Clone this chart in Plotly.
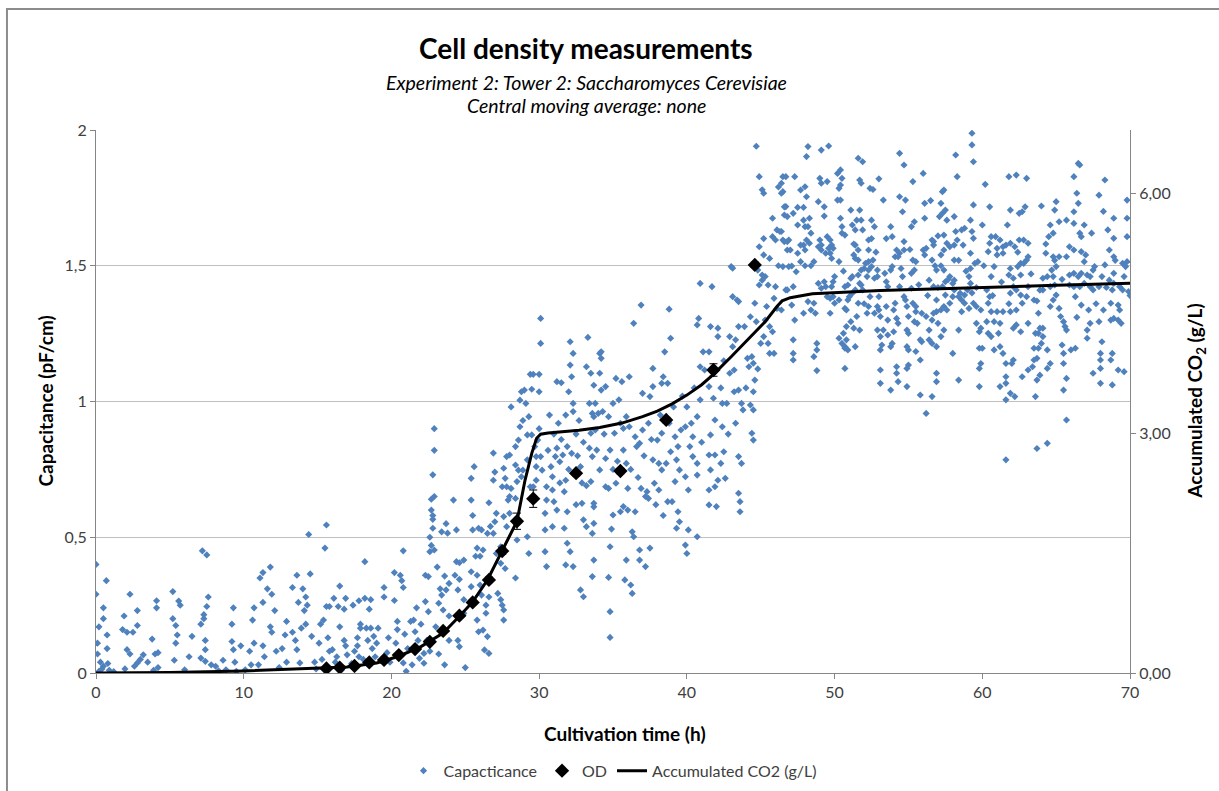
import plotly.graph_objects as go

# ---------------- data ----------------
# Capacitance (pF/cm) in four time segments
cap_a_time = [
    0.0, 0.0, 0.7, 0.5, 0.5, 0.2, 0.1, 0.1, 0.75, 0.75,
    0.3, 0.5, 0.8, 0.2, 0.4, 0.9, 1.96, 1.9, 2.3, 1.8,
    2.1, 2.5, 2.8, 2.8, 2.1, 2.3, 2.8, 3.0, 3.2, 2.6,
    3.5, 3.8, 4.1, 4.1, 4.0, 4.2, 4.2, 5.2, 5.2, 5.4,
    5.5, 5.4, 5.3, 5.6, 5.7, 6.5, 7.1, 7.3, 7.3, 7.2,
    7.5, 7.6, 7.5, 7.4, 7.4, 7.1, 7.4, 7.8, 8.1, 8.6,
    9.3, 9.2, 9.2, 9.3, 9.8, 9.4, 8.8, 9.5, 10.7, 10.6,
    10.4, 10.5, 10.7, 11.1, 11.3, 11.8, 11.3, 11.6, 11.9, 11.3,
    11.4, 11.8, 11.9, 12.1, 12.2, 12.4, 12.6, 12.9, 12.8, 13.3,
    13.6, 13.7, 13.3, 13.5, 13.6, 13.9, 14.0, 14.4, 14.5, 14.2,
    14.1, 14.3, 14.2, 14.6, 13.8, 15.1, 15.2, 15.4, 15.6, 15.5,
    15.6, 15.8, 15.7, 15.8, 16.0, 16.1, 16.5, 16.4, 16.8, 16.5,
    16.9, 16.8, 16.9, 17.0, 17.4, 17.8, 17.9, 17.9, 17.7, 17.7,
    17.8, 18.2, 18.2, 18.5, 18.6, 18.3, 18.6, 18.4, 18.8, 19.1,
    19.0, 19.5, 19.5, 19.8, 1.2, 3.9, 6.0, 6.3, 8.3, 10.1,
    11.0, 12.9, 14.8, 15.3, 16.2, 16.6, 17.3, 18.1, 18.9, 19.3,
    19.7, 14.9, 16.3, 17.5, 18.7, 19.9,
]
cap_a_value = [
    0.40, 0.29, 0.34, 0.24, 0.20, 0.17, 0.11, 0.07, 0.14, 0.09,
    0.04, 0.025, 0.035, 0.006, 0.015, 0.01, 0.015, 0.21, 0.29, 0.16,
    0.15, 0.15, 0.175, 0.23, 0.086, 0.07, 0.037, 0.05, 0.067, 0.025,
    0.04, 0.125, 0.266, 0.24, 0.07, 0.075, 0.02, 0.30, 0.20, 0.175,
    0.14, 0.11, 0.047, 0.265, 0.25, 0.135, 0.18, 0.215, 0.20, 0.45,
    0.435, 0.28, 0.245, 0.12, 0.086, 0.055, 0.043, 0.03, 0.025, 0.047,
    0.24, 0.18, 0.116, 0.086, 0.10, 0.04, 0.012, 0.006, 0.24, 0.195,
    0.08, 0.03, 0.11, 0.35, 0.37, 0.39, 0.26, 0.31, 0.29, 0.10,
    0.06, 0.17, 0.15, 0.23, 0.08, 0.02, 0.09, 0.19, 0.14, 0.315,
    0.36, 0.26, 0.15, 0.12, 0.086, 0.165, 0.31, 0.51, 0.365, 0.28,
    0.23, 0.25, 0.18, 0.135, 0.037, 0.11, 0.18, 0.195, 0.545, 0.46,
    0.245, 0.245, 0.13, 0.08, 0.086, 0.275, 0.32, 0.245, 0.235, 0.17,
    0.275, 0.12, 0.10, 0.067, 0.25, 0.266, 0.18, 0.165, 0.13, 0.10,
    0.06, 0.41, 0.275, 0.235, 0.27, 0.165, 0.165, 0.12, 0.135, 0.165,
    0.11, 0.315, 0.28, 0.13, 0.005, 0.01, 0.012, 0.06, 0.008, 0.012,
    0.03, 0.04, 0.04, 0.05, 0.04, 0.01, 0.035, 0.05, 0.06, 0.045,
    0.075, 0.015, 0.06, 0.08, 0.09, 0.04,
]

cap_b_time = [
    20.2, 20.8, 20.6, 20.7, 20.8, 20.2, 20.4, 20.4, 20.3, 20.9,
    20.8, 21.0, 21.5, 21.3, 21.6, 21.8, 21.1, 22.2, 21.9, 22.2,
    22.9, 22.9, 22.8, 22.9, 22.7, 22.7, 22.8, 22.8, 22.8, 22.6,
    22.7, 22.6, 22.9, 22.3, 22.5, 22.3, 22.5, 23.1, 23.3, 23.4,
    23.2, 23.5, 23.7, 23.4, 23.8, 23.6, 23.7, 23.9, 23.9, 24.2,
    24.4, 24.4, 24.6, 24.9, 24.3, 24.6, 24.5, 24.9, 24.9, 23.9,
    24.5, 24.6, 23.6, 25.0, 25.4, 25.6, 25.4, 25.5, 25.5, 25.9,
    26.1, 25.8, 25.7, 26.0, 26.2, 25.4, 25.4, 25.8, 26.0, 26.1,
    26.4, 26.6, 26.4, 25.8, 25.9, 26.2, 26.5, 26.3, 26.6, 26.6,
    26.5, 26.7, 26.9, 26.9, 27.0, 26.9, 27.1, 27.0, 27.1, 27.4,
    27.4, 27.6, 27.8, 28.0, 27.7, 27.5, 27.8, 28.0, 27.9, 27.8,
    27.6, 27.2, 27.4, 27.6, 27.5, 27.6, 27.7, 28.1, 28.4, 28.4,
    28.6, 28.5, 28.1, 28.4, 28.0, 28.5, 28.4, 28.7, 28.8, 29.0,
    28.9, 28.7, 28.6, 29.1, 29.5, 29.4, 29.6, 30.0, 30.0, 30.1,
    30.1, 29.3, 29.2, 29.5, 29.7, 29.8, 29.8, 29.8, 29.6, 29.4,
    29.2, 28.9, 28.8, 29.2, 29.3, 30.0, 29.9, 30.1, 30.2, 30.5,
    30.5, 30.4, 30.4, 30.4, 30.5, 30.9, 30.9, 31.0, 30.9, 31.2,
    31.1, 31.4, 31.6, 31.2, 31.5, 32.0, 32.1, 32.1, 32.3, 32.2,
    32.3, 32.3, 31.9, 32.2, 32.3, 31.8, 31.7, 31.9, 31.7, 31.9,
    31.8, 32.3, 32.1, 32.9, 33.2, 32.9, 33.0, 33.2, 33.3, 33.2,
    33.5, 33.7, 33.8, 33.6, 33.5, 33.4, 33.6, 33.5, 33.7, 33.6,
    33.7, 33.6, 32.8, 33.0, 34.1, 30.7, 31.0, 31.3, 31.5, 31.8,
    32.5, 32.7, 32.6, 33.0, 30.8, 31.4, 32.0, 32.5, 31.2, 30.6,
    32.8, 21.4, 22.0, 22.4, 21.7, 23.0, 22.6, 23.2,
]
cap_b_value = [
    0.37, 0.45, 0.36, 0.34, 0.315, 0.267, 0.19, 0.16, 0.11, 0.143,
    0.037, 0.006, 0.195, 0.19, 0.152, 0.12, 0.09, 0.072, 0.054, 0.036,
    0.90, 0.82, 0.73, 0.65, 0.64, 0.60, 0.58, 0.566, 0.533, 0.50,
    0.47, 0.447, 0.453, 0.36, 0.355, 0.263, 0.226, 0.39, 0.31, 0.287,
    0.257, 0.232, 0.55, 0.52, 0.515, 0.357, 0.306, 0.33, 0.21, 0.637,
    0.527, 0.41, 0.406, 0.416, 0.36, 0.345, 0.306, 0.27, 0.22, 0.12,
    0.12, 0.097, 0.03, 0.02, 0.637, 0.76, 0.717, 0.58, 0.527, 0.533,
    0.527, 0.46, 0.43, 0.43, 0.453, 0.373, 0.318, 0.36, 0.324, 0.287,
    0.25, 0.28, 0.22, 0.195, 0.152, 0.158, 0.134, 0.085, 0.072, 0.627,
    0.514, 0.54, 0.514, 0.81, 0.74, 0.71, 0.588, 0.557, 0.44, 0.465,
    0.404, 0.754, 0.797, 0.803, 0.717, 0.686, 0.686, 0.65, 0.637, 0.539,
    0.576, 0.293, 0.27, 0.232, 0.25, 0.195, 0.385, 0.98, 0.834, 0.766,
    0.747, 0.705, 0.68, 0.643, 0.588, 0.49, 0.35, 1.005, 1.036, 1.042,
    0.93, 0.907, 0.858, 0.993, 1.045, 1.10, 1.10, 1.10, 1.036, 1.214,
    1.306, 0.944, 0.877, 0.877, 0.834, 0.797, 0.76, 0.71, 0.686, 0.686,
    0.785, 0.747, 0.723, 0.502, 0.44, 0.90, 0.858, 0.797, 0.747, 0.686,
    0.637, 0.588, 0.527, 0.447, 0.392, 0.723, 0.674, 0.631, 0.539, 0.828,
    0.797, 0.778, 0.803, 1.073, 1.069, 1.036, 1.134, 1.22, 1.177, 1.091,
    0.993, 0.963, 0.834, 0.809, 0.735, 0.71, 0.668, 0.594, 0.533, 0.478,
    0.398, 0.392, 0.447, 0.70, 0.69, 0.625, 0.564, 0.539, 1.236, 1.128,
    1.104, 1.06, 0.993, 0.956, 0.883, 0.828, 0.797, 0.705, 0.612, 0.514,
    0.416, 0.355, 0.306, 0.281, 1.177, 0.95, 0.88, 0.92, 0.86, 0.95,
    0.88, 0.93, 0.80, 0.85, 0.76, 0.70, 0.75, 0.62, 0.60, 0.82,
    0.76, 0.03, 0.18, 0.12, 0.24, 0.17, 0.08, 0.07,
]

cap_c_time = [
    34.8, 34.8, 34.7, 34.8, 34.9, 35.0, 33.7, 33.7, 35.8, 35.9,
    36.2, 36.3, 36.3, 36.4, 35.7, 36.0, 36.5, 35.5, 36.8, 36.8,
    37.2, 37.5, 36.9, 37.3, 37.2, 37.4, 37.8, 34.5, 34.7, 35.2,
    33.9, 34.5, 34.8, 34.1, 33.8, 33.4, 33.7, 34.0, 34.3, 34.7,
    35.0, 35.4, 34.2, 34.5, 34.1, 34.2, 34.2, 35.2, 35.6, 36.1,
    35.9, 35.1, 35.7, 36.1, 36.5, 35.7, 35.9, 36.6, 36.8, 37.0,
    37.4, 37.0, 37.5, 37.7, 37.7, 36.9, 36.4, 38.3, 38.4, 38.7,
    38.5, 38.9, 38.8, 38.0, 38.3, 37.7, 38.1, 38.3, 38.1, 38.6,
    38.9, 39.2, 39.4, 39.6, 39.9, 39.3, 39.5, 39.9, 40.1, 39.2,
    38.7, 39.0, 39.4, 39.5, 39.3, 40.1, 39.9, 40.0, 40.7, 40.2,
    40.4, 40.3, 40.7, 40.9, 40.4, 40.7, 40.7, 40.9, 41.2, 41.1,
    41.5, 40.8, 40.9, 41.7, 41.6, 42.1, 42.1, 41.5, 41.8, 42.4,
    41.9, 42.4, 41.6, 41.5, 41.9, 42.3, 42.5, 41.6, 41.5, 41.9,
    42.1, 41.5, 42.0, 42.6, 42.7, 42.9, 43.2, 43.1, 42.9, 43.3,
    43.5, 43.1, 43.5, 43.5, 43.2, 43.7, 43.8, 43.5, 43.7, 43.5,
    43.6, 43.6, 43.9, 44.3, 44.1, 44.4, 44.2, 44.5, 44.6, 44.5,
    44.3, 44.5, 44.4, 44.5, 44.6, 44.7, 45.0, 45.2, 45.3, 45.5,
    45.6, 45.8, 45.6, 45.9, 45.9, 46.1, 46.0, 44.9, 45.1, 45.3,
    45.5, 44.8, 45.1, 44.9, 45.2, 45.2, 45.6, 45.1, 45.2, 44.9,
    45.8, 46.1, 46.3, 45.8, 46.0, 43.0, 43.1, 43.4, 40.7, 44.7,
    36.2, 36.7, 37.1, 37.6, 38.2, 38.8, 39.1, 39.7, 40.5, 37.9,
    38.4, 36.0, 35.3, 35.5, 34.4, 35.0, 46.5, 46.8, 46.8, 46.5,
    46.7, 46.2, 46.4, 46.4, 46.7, 46.7, 46.8, 42.3, 42.8, 43.3,
    44.0, 44.8, 45.4, 46.2, 42.5, 41.0, 40.0,
]
cap_c_value = [
    0.131, 0.226, 0.352, 0.465, 0.53, 0.582, 0.625, 0.551, 0.343, 0.416,
    0.324, 0.293, 0.52, 0.502, 0.613, 0.60, 0.594, 0.594, 0.453, 0.416,
    0.392, 0.46, 0.68, 0.668, 0.65, 0.643, 0.699, 0.686, 0.68, 0.699,
    0.821, 0.79, 0.821, 0.748, 0.895, 0.993, 0.944, 0.956, 0.963, 0.944,
    0.993, 1.006, 1.042, 1.055, 1.104, 1.183, 1.159, 1.085, 1.073, 1.091,
    0.944, 0.883, 0.901, 0.907, 0.87, 0.821, 0.772, 0.834, 0.846, 0.895,
    0.92, 1.03, 1.018, 1.055, 1.122, 1.355, 1.288, 1.067, 1.091, 1.067,
    1.183, 1.233, 1.34, 0.858, 0.883, 0.785, 0.772, 0.748, 0.674, 0.772,
    0.815, 0.87, 0.834, 0.895, 0.907, 0.785, 0.748, 0.723, 0.674, 0.705,
    0.631, 0.631, 0.594, 0.557, 0.533, 0.527, 0.471, 0.44, 0.502, 0.834,
    0.87, 0.92, 0.944, 1.006, 0.797, 0.772, 0.729, 1.128, 1.116, 1.183,
    1.183, 1.306, 1.435, 1.423, 1.276, 1.27, 1.239, 1.055, 1.012, 0.993,
    0.932, 0.907, 0.877, 0.803, 0.803, 0.772, 0.815, 0.748, 0.674, 0.686,
    0.71, 0.619, 0.613, 0.717, 0.993, 1.104, 1.116, 1.202, 1.239, 1.227,
    1.276, 1.386, 1.368, 1.042, 1.036, 0.993, 0.969, 0.797, 0.772, 0.662,
    0.631, 0.594, 1.276, 1.312, 1.159, 1.165, 1.128, 1.141, 1.079, 1.036,
    0.987, 0.969, 0.883, 0.858, 1.362, 1.294, 1.214, 1.239, 1.30, 1.214,
    1.276, 1.257, 1.177, 1.177, 1.38, 1.343, 1.423, 1.429, 1.447, 1.46,
    1.429, 1.484, 1.466, 1.57, 1.60, 1.54, 1.527, 1.78, 1.767, 1.828,
    1.675, 1.632, 1.626, 1.607, 1.595, 1.497, 1.491, 1.374, 1.282, 1.94,
    0.75, 0.72, 0.80, 0.86, 0.95, 0.92, 0.98, 1.02, 1.05, 0.62,
    0.58, 0.68, 0.78, 0.92, 0.88, 0.75, 1.595, 1.589, 1.558, 1.497,
    1.411, 1.79, 1.804, 1.767, 1.828, 1.718, 1.681, 1.05, 0.88, 0.92,
    1.05, 1.12, 1.35, 1.50, 1.15, 0.85, 0.98,
]

cap_d_time = [
    46.5, 47.3, 46.5, 46.6, 46.6, 47.2, 47.5, 47.9, 47.7, 48.1,
    48.0, 48.1, 48.2, 46.4, 46.6, 46.9, 47.0, 46.9, 47.1, 47.4,
    46.8, 47.2, 47.7, 47.7, 47.5, 47.9, 48.0, 48.2, 48.1, 47.9,
    48.3, 48.0, 47.5, 48.0, 48.4, 48.6, 48.4, 48.3, 46.4, 47.1,
    47.3, 47.2, 47.2, 47.2, 47.9, 48.6, 48.4, 48.7, 48.8, 48.8,
    48.6, 48.8, 48.2, 49.0, 49.1, 49.5, 49.1, 49.6, 49.3, 48.9,
    49.3, 49.0, 49.5, 49.7, 49.1, 48.9, 49.1, 49.4, 49.7, 49.8,
    49.6, 49.8, 49.9, 50.3, 50.0, 49.9, 49.8, 49.5, 49.7, 49.9,
    50.0, 50.3, 49.7, 49.4, 49.3, 48.9, 49.1, 50.4, 50.5, 50.3,
    50.2, 50.4, 50.4, 50.5, 50.5, 50.7, 50.4, 50.2, 50.3, 50.5,
    50.7, 50.9, 50.6, 50.8, 50.8, 50.7, 50.7, 50.7, 50.9, 51.1,
    51.2, 50.9, 51.1, 51.7, 51.2, 51.4, 51.5, 51.8, 51.7, 51.6,
    51.9, 51.4, 51.6, 51.4, 51.6, 51.3, 51.9, 51.8, 52.3, 52.5,
    52.3, 52.5, 52.7, 52.4, 52.6, 52.1, 52.3, 52.6, 52.5, 52.0,
    51.8, 52.2, 51.7, 51.6, 52.3, 52.9, 52.7, 52.9, 51.2, 51.4,
    51.9, 51.8, 51.0, 51.5, 51.3, 51.7, 51.6, 52.2, 52.3, 52.4,
    52.7, 52.9, 53.0, 53.0, 53.1, 52.9, 53.1, 53.2, 53.3, 51.1,
    50.8, 50.7, 51.4, 53.1, 53.1, 53.1, 53.8, 53.3, 53.8, 53.9,
    53.5, 53.6, 54.0, 54.1, 54.2, 54.3, 54.0, 53.9, 53.6, 53.8,
    54.2, 54.2, 54.3, 53.6, 53.5, 53.4, 53.8, 53.9, 54.1, 54.3,
    54.4, 54.2, 54.7, 54.6, 54.4, 54.7, 54.8, 54.9, 55.0, 54.9,
    55.0, 54.9, 55.0, 55.0, 54.9, 54.9, 54.4, 54.7, 54.4, 54.8,
    54.6, 54.7, 55.3, 55.2, 55.4, 55.3, 55.5, 55.4, 55.2, 55.2,
    55.3, 55.5, 55.4, 55.5, 55.6, 55.9, 55.8, 55.5, 55.8, 55.9,
    55.8, 56.0, 56.6, 56.2, 56.1, 56.1, 56.6, 56.7, 56.2, 56.0,
    56.1, 56.6, 56.8, 57.2, 56.9, 56.7, 57.0, 56.4, 57.2, 57.4,
    57.1, 57.3, 57.5, 57.2, 57.3, 57.4, 57.6, 56.9, 56.9, 56.7,
    56.2, 56.6, 56.4, 57.0, 57.4, 57.2, 56.6, 56.9, 56.4, 56.9,
    56.9, 57.2, 57.4, 57.6, 57.5, 57.3, 57.5, 57.4, 56.7, 57.4,
    57.6, 57.8, 58.1, 58.3, 58.2, 58.0, 58.1, 57.8, 58.1, 57.8,
    58.0, 58.4, 58.5, 58.6, 58.8, 58.6, 58.4, 58.4, 58.0, 58.2,
    58.3, 58.1, 58.1, 59.3, 59.3, 59.4, 59.4, 59.2, 58.8, 58.6,
    58.7, 59.3, 59.4, 59.2, 59.5, 59.7, 59.2, 59.1, 59.2, 59.0,
    59.3, 58.8, 59.1, 59.4, 59.6, 59.9, 60.0, 60.5, 60.6, 60.5,
    60.4, 60.9, 61.0, 61.0, 60.8, 60.6, 60.3, 60.5, 60.4, 60.6,
    61.0, 60.8, 60.3, 59.9, 59.8, 59.6, 59.8, 60.0, 60.8, 59.9,
    59.8, 59.8, 60.4, 60.6, 61.1, 61.2, 61.2, 61.2, 61.6, 61.6,
    61.4, 61.6, 61.6, 61.8, 62.3, 63.0, 61.9, 62.5, 62.7, 62.9,
    61.7, 61.2, 61.4, 61.6, 61.4, 61.9, 62.2, 62.5, 62.8, 63.1,
    62.6, 62.8, 63.0, 63.1, 62.4, 61.9, 61.8, 62.1, 62.6, 62.1,
    61.9, 62.3, 62.6, 63.1, 61.9, 61.4, 62.3, 62.7, 63.0, 63.5,
    62.3, 62.1, 62.6, 63.1, 63.6, 63.8, 63.9, 64.1, 63.8, 63.7,
    63.5, 63.8, 63.7, 63.5, 63.4, 63.1, 64.4, 64.0, 64.1, 62.1,
    62.0, 62.2, 61.9, 61.6, 62.7, 63.7, 63.6, 63.9, 64.4, 64.6,
    63.7, 64.4, 65.7, 65.0, 64.9, 65.2, 64.6, 64.8, 64.5, 64.3,
    64.8, 65.2, 64.7, 65.0, 64.8, 64.4, 64.1, 64.6, 64.9, 64.1,
    65.0, 64.8, 64.6, 65.2, 65.3, 65.5, 65.6, 65.7, 65.4, 65.5,
    65.5, 65.7, 65.5, 66.0, 66.3, 66.2, 66.4, 66.5, 66.6, 66.2,
    66.5, 66.2, 65.7, 66.2, 66.6, 66.7, 66.9, 65.7, 66.7, 66.9,
    65.9, 66.2, 66.5, 66.7, 67.1, 67.3, 67.5, 67.6, 65.9, 66.2,
    66.3, 66.6, 66.9, 67.3, 67.5, 67.9, 66.7, 67.2, 67.3, 67.1,
    67.1, 67.9, 68.1, 68.0, 68.0, 67.5, 68.0, 68.0, 68.7, 68.8,
    68.8, 69.2, 69.6, 68.3, 67.9, 68.5, 68.9, 69.8, 69.8, 68.9,
    69.8, 68.6, 68.9, 68.3, 68.1, 68.6, 68.9, 69.5, 69.8, 69.7,
    68.9, 69.3, 69.5, 69.9, 68.8, 68.2, 68.7, 69.2, 69.3, 68.9,
    68.7, 69.2, 69.4, 50.6, 51.3, 52.0, 52.8, 53.5, 54.5, 55.1,
    55.7, 56.3, 57.0, 57.7, 58.4, 58.9, 59.6, 60.1, 60.7, 61.3,
    61.8, 62.4, 63.3, 63.9, 64.3, 64.9, 65.4, 65.9, 66.4, 67.0,
    67.7, 68.4, 69.0, 69.6, 70.0, 67.4, 68.2, 64.0, 60.2, 56.5,
    53.0,
]
cap_d_value = [
    1.828, 1.828, 1.773, 1.717, 1.687, 1.693, 1.715, 1.715, 1.779, 1.754,
    1.791, 1.902, 1.939, 1.626, 1.589, 1.595, 1.558, 1.497, 1.499, 1.478,
    1.411, 1.423, 1.515, 1.576, 1.65, 1.668, 1.644, 1.644, 1.595, 1.576,
    1.583, 1.558, 1.546, 1.50, 1.50, 1.515, 1.62, 1.675, 1.337, 1.355,
    1.30, 1.227, 1.177, 1.153, 1.325, 1.362, 1.337, 1.325, 1.214, 1.19,
    1.165, 1.114, 1.368, 1.822, 1.804, 1.81, 1.926, 1.941, 1.717, 1.736,
    1.683, 1.595, 1.607, 1.595, 1.576, 1.57, 1.558, 1.546, 1.546, 1.527,
    1.564, 1.576, 1.564, 1.515, 1.46, 1.441, 1.423, 1.386, 1.38, 1.386,
    1.362, 1.374, 1.325, 1.423, 1.441, 1.435, 1.417, 1.797, 1.822, 1.785,
    1.742, 1.742, 1.675, 1.644, 1.62, 1.613, 1.853, 1.84, 1.233, 1.214,
    1.202, 1.19, 1.251, 1.276, 1.337, 1.343, 1.122, 1.423, 1.429, 1.454,
    1.46, 1.374, 1.705, 1.705, 1.65, 1.632, 1.668, 1.804, 1.816, 1.896,
    1.883, 1.576, 1.558, 1.527, 1.521, 1.54, 1.632, 1.668, 1.595, 1.60,
    1.558, 1.668, 1.644, 1.785, 1.781, 1.509, 1.515, 1.521, 1.497, 1.49,
    1.484, 1.46, 1.435, 1.466, 1.484, 1.484, 1.454, 1.46, 1.399, 1.411,
    1.411, 1.429, 1.386, 1.313, 1.27, 1.263, 1.362, 1.325, 1.35, 1.386,
    1.325, 1.35, 1.386, 1.337, 1.313, 1.263, 1.239, 1.208, 1.263, 1.294,
    1.227, 1.196, 1.202, 1.19, 1.116, 1.067, 1.042, 1.742, 1.644, 1.607,
    1.35, 1.30, 1.337, 1.362, 1.306, 1.288, 1.257, 1.214, 1.245, 1.202,
    1.128, 1.104, 1.073, 1.423, 1.441, 1.472, 1.484, 1.497, 1.533, 1.533,
    1.546, 1.558, 1.558, 1.46, 1.423, 1.386, 1.374, 1.35, 1.313, 1.263,
    1.251, 1.202, 1.19, 1.134, 1.122, 1.055, 1.914, 1.871, 1.754, 1.742,
    1.699, 1.589, 1.81, 1.644, 1.662, 1.521, 1.515, 1.484, 1.472, 1.417,
    1.362, 1.35, 1.294, 1.331, 1.288, 1.325, 1.227, 1.184, 1.153, 1.22,
    1.024, 1.84, 1.018, 0.956, 1.73, 1.675, 1.595, 1.576, 1.564, 1.558,
    1.54, 1.521, 1.50, 1.50, 1.484, 1.423, 1.42, 1.447, 1.54, 1.558,
    1.681, 1.693, 1.705, 1.73, 1.773, 1.779, 1.668, 1.374, 1.331, 1.325,
    1.313, 1.30, 1.263, 1.288, 1.263, 1.239, 1.214, 1.202, 1.227, 1.104,
    1.073, 1.337, 1.35, 1.337, 1.392, 1.423, 1.441, 1.484, 1.589, 1.613,
    1.583, 1.57, 1.576, 1.595, 1.626, 1.435, 1.447, 1.46, 1.411, 1.362,
    1.386, 1.386, 1.399, 1.374, 1.362, 1.331, 1.263, 1.079, 1.177, 1.908,
    1.828, 1.681, 1.521, 1.988, 1.945, 1.883, 1.724, 1.668, 1.638, 1.632,
    1.576, 1.626, 1.601, 1.546, 1.509, 1.515, 1.49, 1.46, 1.435, 1.411,
    1.40, 1.392, 1.343, 1.362, 1.35, 1.337, 1.65, 1.717, 1.607, 1.583,
    1.552, 1.607, 1.564, 1.54, 1.497, 1.46, 1.411, 1.386, 1.362, 1.331,
    1.331, 1.294, 1.294, 1.27, 1.257, 1.288, 1.196, 1.196, 1.19, 1.14,
    1.122, 1.055, 1.251, 1.239, 1.251, 1.288, 1.202, 1.055, 1.006, 0.785,
    1.177, 1.14, 1.091, 1.828, 1.834, 1.822, 1.705, 1.693, 1.699, 1.717,
    1.65, 1.595, 1.57, 1.576, 1.546, 1.583, 1.57, 1.595, 1.595, 1.583,
    1.509, 1.509, 1.521, 1.533, 1.497, 1.49, 1.466, 1.454, 1.466, 1.423,
    1.399, 1.411, 1.392, 1.423, 1.331, 1.331, 1.337, 1.362, 1.386, 1.374,
    1.282, 1.27, 1.257, 1.288, 1.251, 1.251, 1.27, 1.27, 1.325, 1.37,
    1.196, 1.196, 1.159, 1.153, 1.128, 1.116, 1.19, 1.214, 1.239, 1.153,
    1.14, 1.018, 1.03, 1.067, 1.091, 1.079, 1.018, 1.097, 1.122, 1.14,
    0.827, 0.846, 0.932, 1.736, 1.705, 1.662, 1.65, 1.62, 1.607, 1.546,
    1.533, 1.533, 1.484, 1.497, 1.46, 1.46, 1.454, 1.423, 1.429, 1.411,
    1.392, 1.374, 1.35, 1.343, 1.313, 1.294, 1.276, 1.263, 1.208, 1.177,
    1.14, 1.085, 1.042, 1.19, 1.196, 1.828, 1.767, 1.877, 1.871, 1.699,
    1.73, 1.656, 1.668, 1.558, 1.62, 1.607, 1.65, 1.533, 1.552, 1.515,
    1.466, 1.472, 1.46, 1.472, 1.466, 1.46, 1.484, 1.497, 1.429, 1.423,
    1.386, 1.423, 1.435, 1.423, 1.411, 1.423, 1.355, 1.337, 1.288, 1.263,
    1.233, 1.294, 1.22, 1.177, 1.153, 1.104, 1.122, 1.067, 1.153, 1.177,
    1.061, 1.116, 1.11, 1.816, 1.76, 1.632, 1.675, 1.742, 1.675, 1.601,
    1.607, 1.558, 1.533, 1.503, 1.46, 1.447, 1.472, 1.509, 1.515, 1.497,
    1.435, 1.423, 1.411, 1.405, 1.411, 1.337, 1.362, 1.355, 1.337, 1.306,
    1.30, 1.30, 1.288, 1.48, 1.58, 1.36, 1.55, 1.60, 1.49, 1.56,
    1.43, 1.39, 1.61, 1.45, 1.52, 1.48, 1.42, 1.50, 1.39, 1.44,
    1.36, 1.55, 1.47, 1.41, 1.58, 1.52, 1.45, 1.57, 1.31, 1.54,
    1.36, 1.42, 1.52, 1.46, 1.39, 1.62, 1.70, 1.72, 1.80, 1.74,
    1.82,
]

# OD measurements (left axis) with error bars
od_time = [15.6, 16.5, 17.5, 18.5, 19.5, 20.5, 21.6, 22.6, 23.5, 24.6,
           25.5, 26.6, 27.5, 28.5, 29.6, 32.5, 35.5, 38.6, 41.8, 44.6]
od_value = [0.017, 0.020, 0.026, 0.039, 0.048, 0.066, 0.088, 0.115, 0.155, 0.211,
            0.260, 0.343, 0.449, 0.559, 0.642, 0.736, 0.744, 0.932, 1.116, 1.503]
od_error = [0.004, 0.004, 0.004, 0.005, 0.005, 0.005, 0.006, 0.006, 0.007, 0.008,
            0.008, 0.010, 0.012, 0.030, 0.032, 0.010, 0.010, 0.010, 0.023, 0.010]

# Accumulated CO2 (g/L), right axis
co2_time = [0, 5, 10, 15, 17, 19, 20.5, 22, 23.5, 24.6, 25.5, 26.5, 27.5, 28.0,
            28.5, 29.05, 29.5, 29.83, 30.1, 30.6, 31.6, 32.7, 34.1, 35.6, 37.0,
            38.0, 39.0, 40.0, 41.0, 41.8, 43.0, 44.3, 45.3, 46.1, 46.45, 47.0,
            48.5, 53.1, 59.8, 65.0, 70.0]
co2_value = [0, 0.006, 0.025, 0.06, 0.075, 0.125, 0.21, 0.33, 0.50, 0.71, 0.89,
             1.165, 1.53, 1.70, 1.90, 2.42, 2.75, 2.94, 2.99, 3.005, 3.02, 3.04,
             3.075, 3.13, 3.21, 3.28, 3.37, 3.48, 3.61, 3.74, 3.96, 4.21, 4.40,
             4.59, 4.66, 4.70, 4.75, 4.79, 4.83, 4.855, 4.88]

x_ticks = [0, 10, 20, 30, 40, 50, 60, 70]
y_left_ticks = [0, 0.5, 1, 1.5, 2]
y_left_labels = ["0", "0,5", "1", "1,5", "2"]
y_right_ticks = [0, 3, 6]
y_right_labels = ["0,00", "3,00", "6,00"]

# ---------------- figure ----------------
def pairs(t, v):
    n = min(len(t), len(v))
    return t[:n], v[:n]

cap_time, cap_value = [], []
for t, v in [(cap_a_time, cap_a_value), (cap_b_time, cap_b_value),
             (cap_c_time, cap_c_value), (cap_d_time, cap_d_value)]:
    tt, vv = pairs(t, v)
    cap_time += tt
    cap_value += vv

FONT = "Lato, 'Open Sans', sans-serif"
AXIS_GRAY = "#868686"
TICK_COLOR = "#404040"

fig = go.Figure()
fig.add_trace(go.Scatter(
    x=cap_time, y=cap_value, mode="markers", name="Capacticance",
    marker=dict(symbol="diamond", size=5.5, color="#4F81BD"),
    yaxis="y",
))
fig.add_trace(go.Scatter(
    x=od_time, y=od_value, mode="markers", name="OD",
    marker=dict(symbol="diamond", size=11, color="black"),
    error_y=dict(type="data", array=od_error, color="black", thickness=1, width=4),
    yaxis="y",
))
fig.add_trace(go.Scatter(
    x=co2_time, y=co2_value, mode="lines", name="Accumulated CO2 (g/L)",
    line=dict(color="black", width=3),
    yaxis="y2",
))

fig.update_layout(
    width=1219, height=791,
    margin=dict(l=96, r=89, t=130, b=118, autoexpand=False),
    paper_bgcolor="white", plot_bgcolor="white",
    font=dict(family=FONT, size=14, color=TICK_COLOR),
    showlegend=True,
    legend=dict(orientation="h", x=0.5, xanchor="center", y=-0.18, yanchor="middle",
                font=dict(family=FONT, size=16, color=TICK_COLOR),
                itemwidth=30, tracegroupgap=0, bgcolor="rgba(0,0,0,0)"),
    xaxis=dict(range=[0, 70], tickvals=x_ticks, ticktext=[str(v) for v in x_ticks],
               showline=True, linecolor=AXIS_GRAY, linewidth=1,
               ticks="outside", ticklen=5, tickcolor=AXIS_GRAY,
               showgrid=False, zeroline=False,
               tickfont=dict(family=FONT, size=16, color=TICK_COLOR)),
    yaxis=dict(range=[0, 2], tickvals=y_left_ticks, ticktext=y_left_labels,
               showline=True, linecolor=AXIS_GRAY, linewidth=1,
               ticks="outside", ticklen=5, tickcolor=AXIS_GRAY,
               showgrid=True, gridcolor="#C0C0C0", gridwidth=1, zeroline=False,
               tickfont=dict(family=FONT, size=16, color=TICK_COLOR)),
    yaxis2=dict(range=[0, 6.8], tickvals=y_right_ticks, ticktext=y_right_labels,
                overlaying="y", side="right",
                showline=True, linecolor=AXIS_GRAY, linewidth=1,
                ticks="outside", ticklen=5, tickcolor=AXIS_GRAY,
                showgrid=False, zeroline=False,
                tickfont=dict(family=FONT, size=16, color=TICK_COLOR)),
    annotations=[
        dict(text="<b>Cell density measurements</b>", x=0.474, y=1.151,
             xref="paper", yref="paper", showarrow=False, xanchor="center", yanchor="middle",
             font=dict(family=FONT, size=28, color="black")),
        dict(text="<i>Experiment 2: Tower 2: Saccharomyces Cerevisiae</i>", x=0.474, y=1.088,
             xref="paper", yref="paper", showarrow=False, xanchor="center", yanchor="middle",
             font=dict(family=FONT, size=19.5, color="black")),
        dict(text="<i>Central moving average: none</i>", x=0.474, y=1.046,
             xref="paper", yref="paper", showarrow=False, xanchor="center", yanchor="middle",
             font=dict(family=FONT, size=19.5, color="black")),
        dict(text="<b>Cultivation time (h)</b>", x=0.512, y=-0.1105,
             xref="paper", yref="paper", showarrow=False, xanchor="center", yanchor="middle",
             font=dict(family=FONT, size=19, color="black")),
        dict(text="<b>Capacitance (pF/cm)</b>", x=-0.0493, y=0.5, textangle=-90,
             xref="paper", yref="paper", showarrow=False, xanchor="center", yanchor="middle",
             font=dict(family=FONT, size=19, color="black")),
        dict(text="<b>Accumulated CO<sub>2</sub> (g/L)</b>", x=1.063, y=0.5, textangle=-90,
             xref="paper", yref="paper", showarrow=False, xanchor="center", yanchor="middle",
             font=dict(family=FONT, size=19, color="black")),
    ],
    shapes=[
        dict(type="rect", xref="paper", yref="paper",
             x0=-0.0861, x1=1.3, y0=-0.5, y1=1.2228,
             line=dict(color="#8C8C8C", width=2), fillcolor="rgba(0,0,0,0)", layer="below"),
    ],
)

fig.write_html("out.html")
